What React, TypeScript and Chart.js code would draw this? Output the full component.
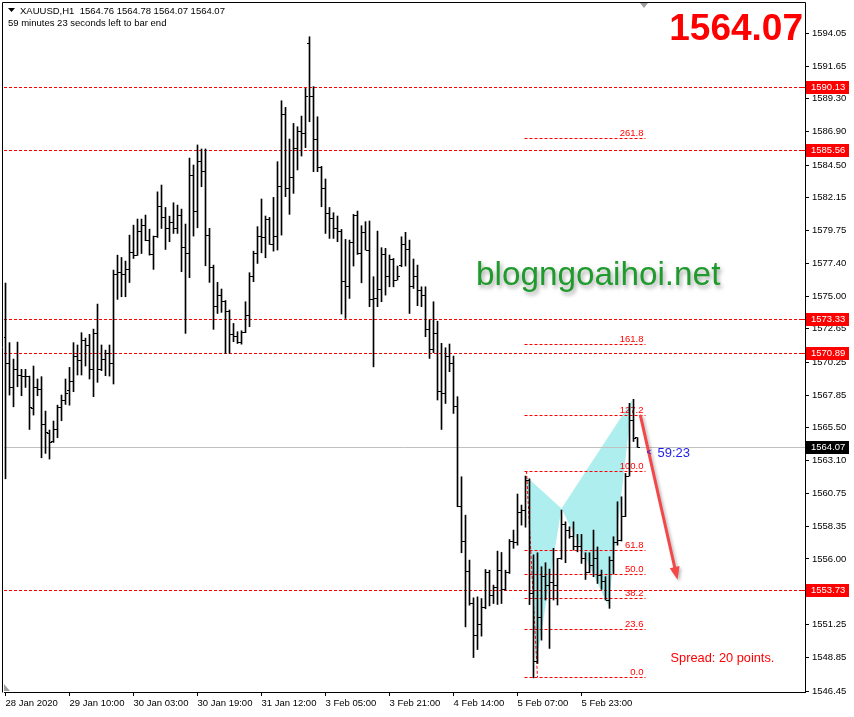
import React, { useEffect, useRef } from 'react';
import { Chart, registerables } from 'chart.js';
Chart.register(...registerables);

// ---- Data (XAUUSD H1) ----
const opens = [
  1572.0, 1570.15, 1568.41, 1569.72, 1569.26, 1569.19, 1569.19, 1566.89, 1568.41, 1568.29,
  1565.74, 1565.08, 1564.5, 1565.37, 1566.97, 1567.45, 1568.22, 1568.87, 1570.68, 1570.37,
  1571.81, 1571.48, 1569.72, 1572.32, 1569.72, 1570.44, 1570.83, 1570.15, 1576.58, 1576.73,
  1576.58, 1576.97, 1578.17, 1577.98, 1579.72, 1580.15, 1579.02, 1578.03, 1579.31, 1581.53,
  1580.71, 1579.91, 1580.32, 1579.91, 1580.83, 1578.54, 1578.11, 1583.77, 1581.12, 1584.76,
  1584.06, 1579.43, 1577.09, 1574.25, 1575.09, 1574.61, 1573.93, 1572.27, 1572.12, 1571.64,
  1572.37, 1573.64, 1576.42, 1578.11, 1579.36, 1579.26, 1580.57, 1578.76, 1579.34, 1582.93,
  1588.19, 1582.81, 1583.58, 1585.70, 1586.91, 1586.79, 1593.30, 1589.44, 1586.38, 1584.30,
  1582.80, 1581.00, 1580.60, 1579.90, 1579.70, 1576.10, 1575.70, 1578.90, 1580.88, 1578.11,
  1579.60, 1578.35, 1574.80, 1574.85, 1575.50, 1578.03, 1576.42, 1577.70, 1576.18, 1577.20,
  1578.78, 1578.40, 1575.74, 1576.42, 1575.40, 1575.09, 1572.61, 1571.16, 1572.32, 1568.10,
  1567.98, 1570.63, 1570.15, 1567.06, 1559.80, 1557.24, 1555.12, 1552.80, 1550.49, 1551.29,
  1552.47, 1555.00, 1553.34, 1553.91, 1555.19, 1553.79, 1555.00, 1557.24, 1557.17, 1559.37,
  1559.54, 1561.70, 1553.50, 1548.60, 1551.80, 1554.70, 1554.10, 1554.30, 1554.10, 1556.00,
  1558.50, 1558.04, 1557.61, 1556.89, 1556.90, 1556.00, 1555.00, 1555.50, 1556.00, 1554.80,
  1554.35, 1553.03, 1555.90, 1557.20, 1557.37, 1559.06, 1562.00, 1566.00, 1564.76
];
const highs = [
  1575.96, 1571.65, 1570.46, 1571.69, 1569.72, 1569.72, 1569.23, 1569.96, 1569.02, 1569.19,
  1566.70, 1565.33, 1565.98, 1567.13, 1567.86, 1569.02, 1569.86, 1571.65, 1571.48, 1572.37,
  1571.98, 1572.25, 1572.63, 1574.44, 1571.48, 1571.11, 1571.48, 1576.90, 1577.98, 1577.81,
  1577.55, 1579.43, 1580.15, 1580.59, 1580.59, 1580.88, 1579.86, 1579.36, 1582.56, 1583.05,
  1581.43, 1580.80, 1581.77, 1581.60, 1581.31, 1580.23, 1585.00, 1584.50, 1585.95, 1585.66,
  1585.66, 1579.92, 1577.26, 1576.01, 1575.53, 1574.70, 1574.01, 1573.04, 1572.44, 1572.51,
  1574.61, 1576.71, 1578.27, 1580.04, 1582.04, 1580.81, 1580.71, 1582.16, 1584.74, 1589.15,
  1588.67, 1586.38, 1587.51, 1587.27, 1588.04, 1590.04, 1593.78, 1590.17, 1587.99, 1584.40,
  1583.49, 1581.43, 1581.05, 1580.81, 1579.84, 1579.12, 1579.07, 1580.93, 1581.17, 1580.11,
  1580.40, 1580.45, 1576.42, 1579.72, 1578.52, 1578.47, 1577.99, 1577.74, 1577.19, 1579.31,
  1579.63, 1579.07, 1577.70, 1577.26, 1575.69, 1575.69, 1573.30, 1574.61, 1573.20, 1571.60,
  1571.28, 1571.55, 1570.68, 1567.74, 1561.95, 1559.17, 1555.92, 1553.19, 1553.26, 1553.14,
  1555.24, 1555.19, 1554.11, 1556.57, 1556.47, 1555.19, 1557.41, 1558.09, 1560.70, 1559.90,
  1562.00, 1561.80, 1556.30, 1556.45, 1555.44, 1555.73, 1555.27, 1556.77, 1556.04, 1559.54,
  1558.69, 1558.33, 1558.69, 1557.78, 1557.78, 1556.45, 1556.45, 1558.09, 1556.87, 1555.20,
  1554.72, 1556.16, 1557.61, 1560.14, 1560.50, 1562.19, 1567.26, 1567.55, 1564.78
];
const lows = [
  1561.80, 1567.86, 1567.01, 1568.46, 1567.81, 1568.41, 1565.37, 1566.41, 1567.81, 1563.32,
  1563.64, 1563.23, 1564.43, 1564.77, 1566.00, 1567.18, 1567.13, 1568.10, 1569.31, 1569.31,
  1569.96, 1569.02, 1567.74, 1568.78, 1569.62, 1569.26, 1569.23, 1568.66, 1574.78, 1574.97,
  1574.97, 1576.00, 1577.74, 1577.96, 1578.10, 1579.02, 1577.98, 1576.95, 1579.26, 1579.91,
  1578.39, 1578.95, 1579.55, 1579.55, 1576.78, 1572.32, 1576.35, 1579.36, 1579.96, 1582.93,
  1577.21, 1576.01, 1572.61, 1573.76, 1573.84, 1570.87, 1570.87, 1571.72, 1571.59, 1571.54,
  1572.37, 1572.80, 1576.06, 1577.38, 1578.15, 1577.79, 1578.76, 1578.27, 1578.35, 1579.43,
  1582.21, 1580.93, 1582.45, 1584.14, 1585.15, 1585.75, 1587.63, 1584.02, 1584.02, 1581.48,
  1579.55, 1579.19, 1579.19, 1578.95, 1573.72, 1573.40, 1574.85, 1577.19, 1578.03, 1575.98,
  1578.35, 1574.25, 1569.90, 1574.25, 1574.61, 1575.09, 1575.69, 1575.69, 1576.18, 1577.14,
  1577.19, 1573.76, 1575.57, 1574.32, 1574.25, 1572.08, 1570.51, 1570.92, 1567.50, 1565.37,
  1567.25, 1569.55, 1566.53, 1559.78, 1556.45, 1551.09, 1552.66, 1548.87, 1549.45, 1550.42,
  1552.40, 1552.61, 1552.78, 1552.71, 1552.78, 1553.75, 1554.95, 1556.77, 1557.00, 1558.45,
  1558.30, 1552.70, 1547.40, 1548.44, 1550.13, 1553.03, 1549.53, 1553.03, 1552.67, 1555.97,
  1555.73, 1557.50, 1556.65, 1556.52, 1555.68, 1554.52, 1555.00, 1554.72, 1554.23, 1553.80,
  1553.03, 1552.43, 1554.91, 1557.00, 1557.30, 1559.06, 1562.00, 1564.50, 1564.07
];
const closes = [
  1570.15, 1568.41, 1569.72, 1569.26, 1569.19, 1569.19, 1566.94, 1568.41, 1568.29, 1565.74,
  1565.13, 1564.43, 1565.37, 1566.97, 1567.45, 1567.98, 1568.87, 1570.68, 1570.37, 1571.81,
  1571.48, 1569.72, 1572.32, 1569.72, 1570.44, 1570.83, 1570.15, 1576.58, 1576.73, 1576.58,
  1576.97, 1578.17, 1577.93, 1579.72, 1580.15, 1579.02, 1578.03, 1579.31, 1581.53, 1580.71,
  1579.91, 1580.32, 1579.91, 1580.83, 1578.54, 1578.11, 1583.77, 1581.12, 1584.76, 1584.06,
  1579.43, 1577.09, 1574.25, 1575.09, 1574.61, 1573.93, 1572.27, 1572.12, 1571.64, 1572.37,
  1573.64, 1576.42, 1578.11, 1579.36, 1579.26, 1580.57, 1578.76, 1579.34, 1582.93, 1588.19,
  1582.81, 1583.58, 1585.70, 1586.91, 1586.79, 1589.44, 1589.44, 1586.38, 1584.30, 1582.80,
  1581.00, 1580.60, 1579.90, 1579.70, 1576.10, 1575.70, 1578.90, 1580.88, 1578.11, 1579.60,
  1578.35, 1574.80, 1574.85, 1575.50, 1578.03, 1576.42, 1577.70, 1576.18, 1576.42, 1578.78,
  1578.40, 1575.74, 1576.42, 1575.40, 1575.09, 1572.61, 1571.16, 1572.32, 1568.10, 1567.98,
  1570.63, 1570.15, 1567.06, 1559.80, 1557.24, 1555.12, 1552.80, 1550.49, 1551.29, 1552.47,
  1555.00, 1553.34, 1553.91, 1555.19, 1553.79, 1555.00, 1557.24, 1557.17, 1559.37, 1559.54,
  1561.70, 1553.50, 1548.60, 1551.80, 1554.70, 1554.10, 1554.30, 1554.10, 1556.00, 1558.50,
  1558.04, 1557.61, 1556.89, 1556.90, 1556.00, 1555.00, 1555.50, 1556.00, 1554.80, 1554.35,
  1553.03, 1555.90, 1557.20, 1557.37, 1559.06, 1562.00, 1566.00, 1564.73, 1564.07
];

const xTickLabels = ['28 Jan 2020', '29 Jan 10:00', '30 Jan 03:00', '30 Jan 19:00', '31 Jan 12:00',
  '3 Feb 05:00', '3 Feb 21:00', '4 Feb 14:00', '5 Feb 07:00', '5 Feb 23:00'];
const barsPerLabel = 16;
const yTickValues = [1594.05, 1591.65, 1589.30, 1586.90, 1584.50, 1582.15, 1579.75, 1577.40, 1575.00,
  1572.65, 1570.25, 1567.85, 1565.50, 1563.10, 1560.75, 1558.35, 1556.00, 1553.60, 1551.25, 1548.85, 1546.45];

const levelPrices = [1590.13, 1585.56, 1573.33, 1570.89, 1553.73];
const currentPrice = 1564.07;
const fibLevels = [0, 23.6, 38.2, 50.0, 61.8, 100.0, 127.2, 161.8, 261.8];
const fibLow = 1547.45;
const fibHigh = 1562.36;
const fibFromBar = 129.75;
const fibToBar = 160;
const fibDiagBars = [130.25, 133];
const patternBars = [130.25, 132.6, 139, 150.75, 156.7];
const patternPrices = [1561.95, 1548.3, 1559.66, 1552.6, 1567.5];
const arrowBars = [158.75, 168];
const arrowPrices = [1566.35, 1554.5];

const symbolTitle = 'XAUUSD,H1  1564.76 1564.78 1564.07 1564.07';
const timerText = '59 minutes 23 seconds left to bar end';
const bigPrice = '1564.07';
const watermark = 'blogngoaihoi.net';
const spreadText = 'Spread: 20 points.';
const countdown = '59:23';

const FONT = 'Liberation Sans';

const overlayPlugin = {
  id: 'mtOverlay',
  beforeDatasetsDraw(chart: any) {
    const ctx = chart.ctx;
    const xs = chart.scales.x, ys = chart.scales.y;
    const { left, right, top, bottom } = chart.chartArea;
    ctx.save();
    ctx.beginPath();
    ctx.rect(left, top, right - left, bottom - top);
    ctx.clip();
    // harmonic pattern triangles
    ctx.fillStyle = '#afeeee';
    const tri = (a: number, b: number, c: number) => {
      ctx.beginPath();
      ctx.moveTo(xs.getPixelForValue(patternBars[a]), ys.getPixelForValue(patternPrices[a]));
      ctx.lineTo(xs.getPixelForValue(patternBars[b]), ys.getPixelForValue(patternPrices[b]));
      ctx.lineTo(xs.getPixelForValue(patternBars[c]), ys.getPixelForValue(patternPrices[c]));
      ctx.closePath();
      ctx.fill();
    };
    tri(0, 1, 2);
    tri(2, 3, 4);
    // current price line
    ctx.lineWidth = 1;
    ctx.strokeStyle = '#c0c0c0';
    const yy = Math.round(ys.getPixelForValue(currentPrice)) + 0.5;
    ctx.beginPath(); ctx.moveTo(left, yy); ctx.lineTo(right, yy); ctx.stroke();
    // horizontal levels
    ctx.strokeStyle = '#ff0000';
    ctx.setLineDash([3, 2]);
    levelPrices.forEach((p) => {
      const y = Math.round(ys.getPixelForValue(p)) + 0.5;
      ctx.beginPath(); ctx.moveTo(left, y); ctx.lineTo(right, y); ctx.stroke();
    });
    // fibonacci
    const fx1 = xs.getPixelForValue(fibFromBar), fx2 = xs.getPixelForValue(fibToBar);
    fibLevels.forEach((lv) => {
      const p = fibLow + (fibHigh - fibLow) * lv / 100;
      const y = Math.round(ys.getPixelForValue(p)) + 0.5;
      ctx.beginPath(); ctx.moveTo(fx1, y); ctx.lineTo(fx2, y); ctx.stroke();
    });
    ctx.beginPath();
    ctx.moveTo(xs.getPixelForValue(fibDiagBars[0]), ys.getPixelForValue(fibHigh));
    ctx.lineTo(xs.getPixelForValue(fibDiagBars[1]), ys.getPixelForValue(fibLow));
    ctx.stroke();
    ctx.setLineDash([]);
    // fib labels
    ctx.fillStyle = '#ff0000';
    ctx.font = `9.5px "${FONT}"`;
    ctx.textAlign = 'right';
    ctx.textBaseline = 'alphabetic';
    const lx = xs.getPixelForValue(fibToBar) - 2;
    fibLevels.forEach((lv) => {
      const p = fibLow + (fibHigh - fibLow) * lv / 100;
      const y = Math.round(ys.getPixelForValue(p));
      ctx.fillText(lv.toFixed(1), lx, y - 2);
    });
    ctx.restore();
  },
  afterDatasetsDraw(chart: any) {
    const ctx = chart.ctx;
    const xs = chart.scales.x, ys = chart.scales.y;
    const { left, right, top, bottom } = chart.chartArea;
    ctx.save();
    ctx.beginPath();
    ctx.rect(left, top, right - left, bottom - top);
    ctx.clip();
    // OHLC open / close ticks
    ctx.fillStyle = '#000';
    for (let i = 0; i < opens.length; i++) {
      const x = Math.round(xs.getPixelForValue(i) - 0.5);
      const yo = Math.round(ys.getPixelForValue(opens[i]) - 0.5);
      const yc = Math.round(ys.getPixelForValue(closes[i]) - 0.5);
      ctx.fillRect(x - 2, yo, 2, 1);
      ctx.fillRect(x + 1, yc, 2, 1);
    }
    // arrow
    const ax1 = xs.getPixelForValue(arrowBars[0]), ay1 = ys.getPixelForValue(arrowPrices[0]);
    const ax2 = xs.getPixelForValue(arrowBars[1]), ay2 = ys.getPixelForValue(arrowPrices[1]);
    const ang = Math.atan2(ay2 - ay1, ax2 - ax1);
    const hl = 13, hw = 5;
    const bx = ax2 - hl * Math.cos(ang), by = ay2 - hl * Math.sin(ang);
    ctx.shadowColor = 'rgba(0,0,0,0.25)';
    ctx.shadowBlur = 3; ctx.shadowOffsetX = 2; ctx.shadowOffsetY = 2;
    ctx.strokeStyle = '#f44848';
    ctx.fillStyle = '#f44848';
    ctx.lineWidth = 3;
    ctx.lineCap = 'round';
    ctx.beginPath(); ctx.moveTo(ax1, ay1); ctx.lineTo(bx, by); ctx.stroke();
    ctx.beginPath();
    ctx.moveTo(ax2, ay2);
    ctx.lineTo(bx + hw * Math.sin(ang), by - hw * Math.cos(ang));
    ctx.lineTo(bx - hw * Math.sin(ang), by + hw * Math.cos(ang));
    ctx.closePath(); ctx.fill();
    ctx.shadowColor = 'transparent'; ctx.shadowBlur = 0; ctx.shadowOffsetX = 0; ctx.shadowOffsetY = 0;
    // countdown
    const cy = ys.getPixelForValue(currentPrice);
    const cx = xs.getPixelForValue(160);
    ctx.fillStyle = '#1e1ee6';
    ctx.textBaseline = 'middle';
    ctx.textAlign = 'left';
    ctx.font = `9px "${FONT}"`;
    ctx.fillText('<', cx + 1, cy + 5);
    ctx.font = `13px "${FONT}"`;
    ctx.fillText(countdown, cx + 12, cy + 6);
    // spread
    ctx.fillStyle = '#ff0000';
    ctx.font = `12.8px "${FONT}"`;
    ctx.fillText(spreadText, xs.getPixelForValue(166.25), 658);
    // watermark
    ctx.save();
    ctx.shadowColor = 'rgba(0,0,0,0.35)';
    ctx.shadowBlur = 4; ctx.shadowOffsetX = 2; ctx.shadowOffsetY = 3;
    ctx.fillStyle = '#1f9a2c';
    ctx.font = `33.3px "${FONT}"`;
    ctx.textBaseline = 'alphabetic';
    ctx.fillText(watermark, 476, 285);
    ctx.restore();
    // big price
    ctx.fillStyle = '#ff0000';
    ctx.font = `bold 37px "${FONT}"`;
    ctx.textAlign = 'right';
    ctx.textBaseline = 'alphabetic';
    ctx.fillText(bigPrice, right - 2, 40);
    ctx.restore();
  },
  afterDraw(chart: any) {
    const ctx = chart.ctx;
    const ys = chart.scales.y;
    const { right, bottom } = chart.chartArea;
    ctx.save();
    // frame
    ctx.strokeStyle = '#000';
    ctx.lineWidth = 1;
    ctx.beginPath();
    ctx.moveTo(2.5, bottom + 0.5); ctx.lineTo(2.5, 2.5); ctx.lineTo(right + 0.5, 2.5); ctx.lineTo(right + 0.5, bottom + 0.5);
    ctx.stroke();
    // axis price boxes
    ctx.font = `9.5px "${FONT}"`;
    ctx.textAlign = 'left';
    ctx.textBaseline = 'middle';
    const box = (p: number, bg: string) => {
      const y = Math.round(ys.getPixelForValue(p));
      ctx.fillStyle = bg;
      ctx.fillRect(right + 1, y - 6, 43, 13);
      ctx.fillStyle = '#fff';
      ctx.fillText(p.toFixed(2), right + 6, y + 0.5);
    };
    levelPrices.forEach((p) => {
      box(p, '#ff0000');
      const y = Math.round(ys.getPixelForValue(p)) + 0.5;
      ctx.strokeStyle = '#ff0000';
      ctx.beginPath(); ctx.moveTo(right - 3, y); ctx.lineTo(right, y); ctx.stroke();
    });
    box(currentPrice, '#000');
    // header text
    ctx.fillStyle = '#000';
    ctx.beginPath();
    ctx.moveTo(8, 8); ctx.lineTo(15, 8); ctx.lineTo(11.5, 12); ctx.closePath(); ctx.fill();
    ctx.font = `9.5px "${FONT}"`;
    ctx.textBaseline = 'middle';
    ctx.fillText(symbolTitle, 20, 11);
    ctx.fillText(timerText, 8, 23);
    // shift markers
    ctx.fillStyle = '#a0a0a0';
    ctx.beginPath();
    ctx.moveTo(640, 3); ctx.lineTo(648, 3); ctx.lineTo(644, 8); ctx.closePath(); ctx.fill();
    ctx.beginPath();
    ctx.moveTo(4, 684); ctx.lineTo(4, 691); ctx.lineTo(10, 691); ctx.closePath(); ctx.fill();
    ctx.restore();
  }
};

export default function App() {
  const ref = useRef<HTMLCanvasElement>(null);
  useEffect(() => {
    document.body.style.margin = '0';
    const canvas = ref.current!;
    const chart = new Chart(canvas, {
      type: 'bar',
      data: {
        datasets: [{
          data: lows.map((l, i) => ({ x: i, y: [l, highs[i]] })) as any,
          backgroundColor: '#000',
          borderWidth: 0,
          barThickness: 1,
          grouped: false,
        } as any]
      },
      options: {
        responsive: false,
        animation: false,
        devicePixelRatio: 1,
        layout: { padding: { left: 4, top: 4, right: 0, bottom: 0 } },
        plugins: { legend: { display: false }, tooltip: { enabled: false } },
        scales: {
          x: {
            type: 'linear',
            position: 'bottom',
            min: -0.375,
            max: 199.875,
            offset: false,
            afterFit: (s: any) => { s.height = 25; s.paddingLeft = 0; s.paddingRight = 0; },
            afterBuildTicks: (s: any) => {
              s.ticks = xTickLabels.map((_, k) => ({ value: k * barsPerLabel }));
            },
            grid: { display: true, drawOnChartArea: false, drawTicks: true, tickLength: 4, color: '#000', offset: false },
            border: { display: true, color: '#000' },
            ticks: {
              autoSkip: false,
              maxRotation: 0,
              align: 'start',
              padding: 2,
              color: '#000',
              font: { family: FONT, size: 9.5 },
              callback: (v: any) => xTickLabels[Math.round(Number(v) / barsPerLabel)] ?? '',
            },
          } as any,
          y: {
            type: 'linear',
            position: 'right',
            min: 1546.378,
            max: 1596.148,
            afterFit: (s: any) => { s.width = 49; s.paddingTop = 0; s.paddingBottom = 0; },
            afterBuildTicks: (s: any) => { s.ticks = yTickValues.map((v) => ({ value: v })); },
            grid: { display: true, drawOnChartArea: false, drawTicks: true, tickLength: 4, color: '#000' },
            border: { display: true, color: '#000' },
            ticks: {
              autoSkip: false,
              padding: 3,
              color: '#000',
              font: { family: FONT, size: 9.5 },
              callback: (v: any) => Number(v).toFixed(2),
            },
          } as any,
        },
      },
      plugins: [overlayPlugin],
    });
    return () => chart.destroy();
  }, []);
  return (
    <div style={{ width: 854, height: 717, background: '#fff' }}>
      <canvas ref={ref} width={854} height={717} />
    </div>
  );
}
